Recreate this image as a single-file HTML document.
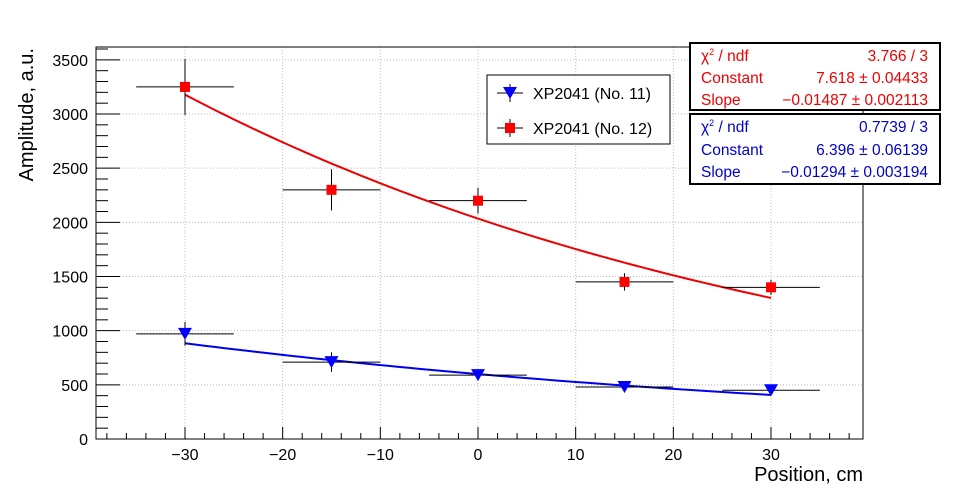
<!DOCTYPE html>
<html><head><meta charset="utf-8"><style>
body{margin:0;background:#fff}
svg{font-family:"Liberation Sans",sans-serif}
</style></head><body>
<svg id="c" width="959" height="488" xmlns="http://www.w3.org/2000/svg">
<g id="grid"></g>
<g id="axes"></g>
<g id="fits"></g>
<g id="pts"></g>
<rect x="96" y="47" width="767" height="392" fill="none" stroke="#000" stroke-width="1"/>
<text x="863" y="481" text-anchor="end" font-size="20">Position, cm</text>
<text transform="translate(33,48) rotate(-90)" text-anchor="end" font-size="20">Amplitude, a.u.</text>
<g>
<rect x="487" y="75" width="183" height="69" fill="#fff" stroke="#000"/>
<g>
<line x1="510" y1="84" x2="510" y2="102" stroke="#000"/><line x1="497" y1="93" x2="523" y2="93" stroke="#000"/>
<polygon points="503,87 517,87 510,99" fill="#00f"/>
<text x="533" y="99" font-size="16">XP2041 (No. 11)</text></g>
<g>
<line x1="510" y1="119" x2="510" y2="137" stroke="#000"/><line x1="497" y1="128" x2="523" y2="128" stroke="#000"/>
<rect x="505" y="123" width="10" height="10" fill="#f00"/>
<text x="533" y="134" font-size="16">XP2041 (No. 12)</text></g>
</g>
<g fill="#e00" font-size="15.5">
<rect x="690" y="43" width="250" height="67" fill="#fff" stroke="#000" stroke-width="2"/>
<text x="701" y="61">χ<tspan font-size="9" dy="-6">2</tspan><tspan dy="6"> / ndf</tspan></text><text x="928" y="61" text-anchor="end">3.766 / 3</text>
<text x="701" y="83">Constant</text><text x="928" y="83" text-anchor="end">7.618 ± 0.04433</text>
<text x="701" y="105">Slope</text><text x="928" y="105" text-anchor="end">−0.01487 ± 0.002113</text>
</g>
<g fill="#00c" font-size="15.5">
<rect x="690" y="114" width="250" height="70" fill="#fff" stroke="#000" stroke-width="2"/>
<text x="701" y="132">χ<tspan font-size="9" dy="-6">2</tspan><tspan dy="6"> / ndf</tspan></text><text x="928" y="132" text-anchor="end">0.7739 / 3</text>
<text x="701" y="155">Constant</text><text x="928" y="155" text-anchor="end">6.396 ± 0.06139</text>
<text x="701" y="177">Slope</text><text x="928" y="177" text-anchor="end">−0.01294 ± 0.003194</text>
</g>
</svg>
<script>
const xs=[-30,-15,0,15,30];
const exVals=[5,5,5,5,5];
const redY=[3250,2300,2200,1450,1400];
const redEy=[260,190,120,80,70];
const blueY=[970,710,590,480,450];
const blueEy=[110,90,40,50,40];
const redFit=[7.618,-0.01487];
const blueFit=[6.396,-0.01294];
const xTicks=[-30,-20,-10,0,10,20,30];
const yTicks=[0,500,1000,1500,2000,2500,3000,3500];
const NS="http://www.w3.org/2000/svg";
const X=v=>478+v*9.767, Y=v=>439-v*0.10833;
function mk(p,t,a){const e=document.createElementNS(NS,t);for(const k in a)e.setAttribute(k,a[k]);document.getElementById(p).appendChild(e);return e;}
yTicks.forEach(v=>{
 const g=mk('grid','line',{x1:96,x2:863,y1:Y(v),y2:Y(v),stroke:'#bbb','stroke-dasharray':'1,2'});
 
 
 const t=mk('axes','text',{x:88,y:Y(v)+6,'text-anchor':'end','font-size':16});t.textContent=v;
 
 
});
for(let v=0;v<=3600;v+=100){if(Y(v)<47)break;const l=mk('axes','line',{x1:96,x2:v%500?108:120,y1:Y(v),y2:Y(v),stroke:'#000'});
 
 }
xTicks.forEach(v=>{
 const g=mk('grid','line',{x1:X(v),x2:X(v),y1:47,y2:439,stroke:'#bbb','stroke-dasharray':'1,2'});
 
 
 const t=mk('axes','text',{x:X(v),y:460,'text-anchor':'middle','font-size':16});t.textContent=v<0?'−'+(-v):v;
 
 
});
for(let v=-38;v<=38;v+=2){const l=mk('axes','line',{x1:X(v),x2:X(v),y1:439,y2:v%10?433:427,stroke:'#000'});
 
 }
function fit(p,col,name){let d='';for(let v=-30;v<=30;v+=1){d+=(v==-30?'M':'L')+X(v)+','+Y(Math.exp(p[0]+p[1]*v));}
 const e=mk('fits','path',{d:d,fill:'none',stroke:col,'stroke-width':2});
 
 }
fit(redFit,'#e00','fit-no12');fit(blueFit,'#00e','fit-no11');
function series(ys,eys,col,shape,name){xs.forEach((x,i)=>{
 const h=mk('pts','line',{x1:X(x-exVals[i]),x2:X(x+exVals[i]),y1:Y(ys[i]),y2:Y(ys[i]),stroke:'#000'});
 
 
 const v=mk('pts','line',{x1:X(x),x2:X(x),y1:Y(ys[i]-eys[i]),y2:Y(ys[i]+eys[i]),stroke:'#000'});
 
 
 const cx=X(x),cy=Y(ys[i]);let m;
 if(shape=='sq')m=mk('pts','rect',{x:cx-5,y:cy-5,width:10,height:10,fill:col});
 else m=mk('pts','polygon',{points:`${cx-7},${cy-6} ${cx+7},${cy-6} ${cx},${cy+6}`,fill:col});
 
 
});}
series(redY,redEy,'#f00','sq','no12');
series(blueY,blueEy,'#00f','tri','no11');
</script>
</body></html>
